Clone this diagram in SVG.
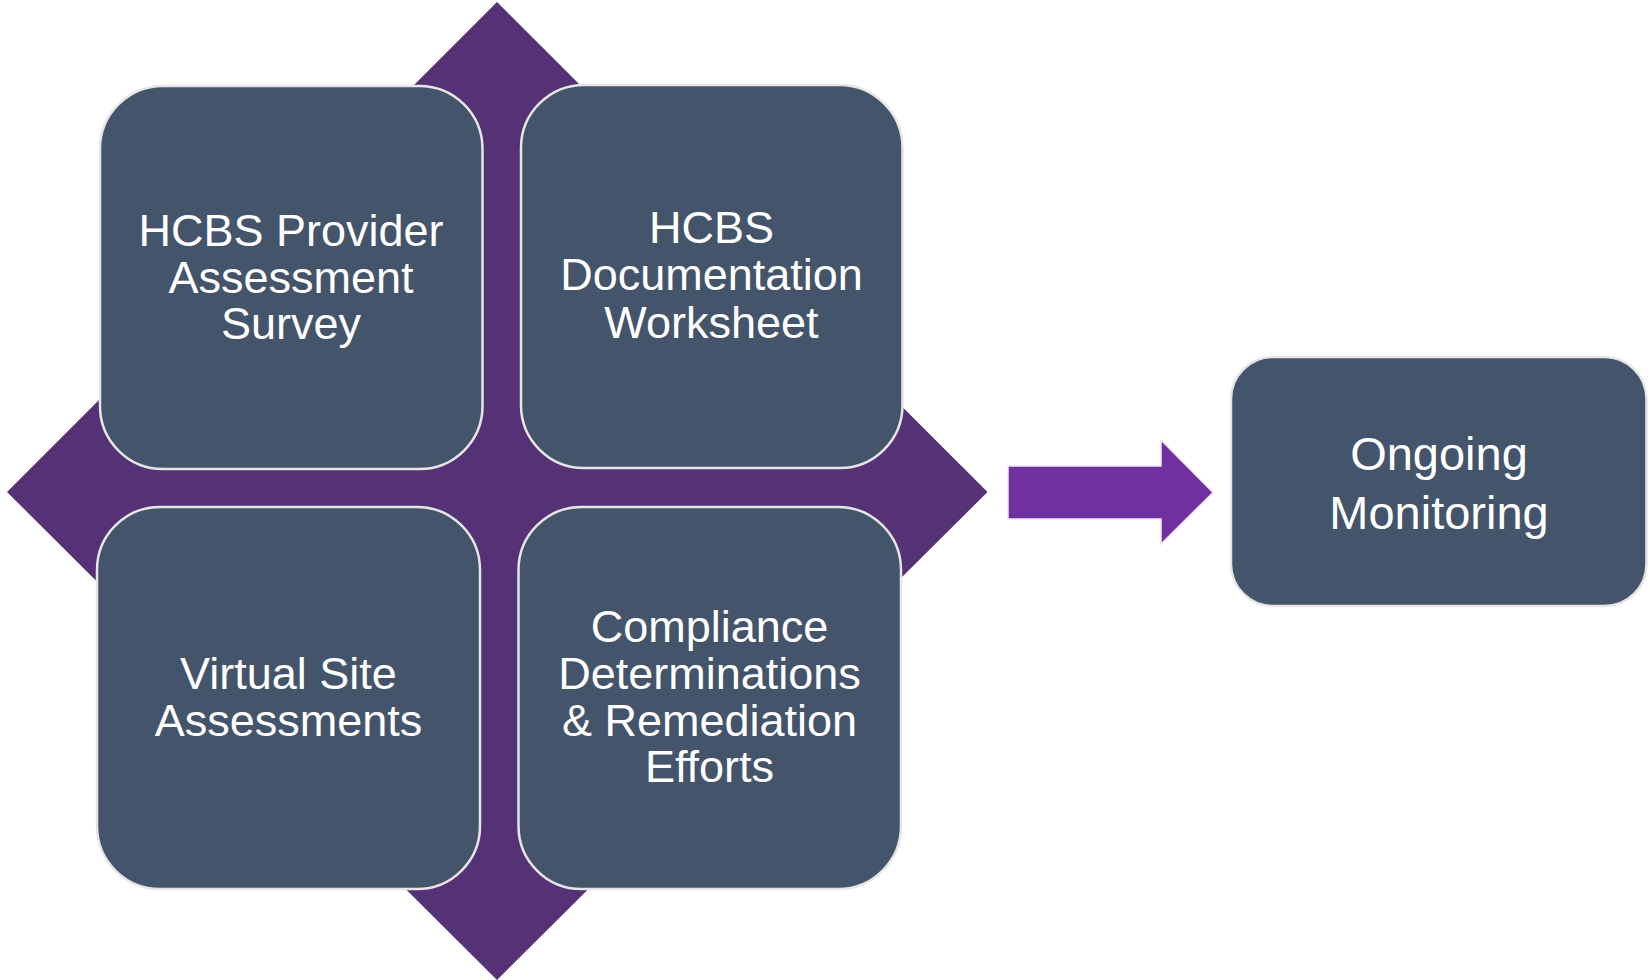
<svg xmlns="http://www.w3.org/2000/svg" width="1650" height="980" viewBox="0 0 1650 980">
  <style>
    .box { fill: #44546A; stroke: #E6E6E6; stroke-width: 2.5; }
    .lbl { font-family: "Liberation Sans", Arial, sans-serif; font-size: 45px; fill: #FFFFFF; text-anchor: middle; }
    .lbl2 { font-family: "Liberation Sans", Arial, sans-serif; font-size: 47px; fill: #FFFFFF; text-anchor: middle; }
  </style>
  <rect width="1650" height="980" fill="#FFFFFF"/>
  <g id="background-diamond">
    <polygon points="497,2 987.5,492 497,980 7,492" fill="#553176"/>
  </g>
  <g id="node-provider-survey">
    <rect class="box" x="100" y="86" width="382.5" height="383" rx="63" ry="63"/>
    <text class="lbl" x="291" y="245.5">HCBS Provider</text>
    <text class="lbl" x="291" y="292.5">Assessment</text>
    <text class="lbl" x="291" y="339">Survey</text>
  </g>
  <g id="node-documentation-worksheet">
    <rect class="box" x="521" y="85" width="381.5" height="383" rx="63" ry="63"/>
    <text class="lbl" x="711.5" y="243">HCBS</text>
    <text class="lbl" x="711.5" y="290">Documentation</text>
    <text class="lbl" x="711.5" y="337.5">Worksheet</text>
  </g>
  <g id="node-virtual-site">
    <rect class="box" x="97" y="507" width="383" height="382" rx="63" ry="63"/>
    <text class="lbl" x="288.5" y="689">Virtual Site</text>
    <text class="lbl" x="288.5" y="736">Assessments</text>
  </g>
  <g id="node-compliance">
    <rect class="box" x="518.5" y="507" width="382.5" height="382" rx="63" ry="63"/>
    <text class="lbl" x="709.5" y="641.5">Compliance</text>
    <text class="lbl" x="709.5" y="688.5">Determinations</text>
    <text class="lbl" x="709.5" y="735.5">&amp; Remediation</text>
    <text class="lbl" x="709.5" y="782">Efforts</text>
  </g>
  <g id="connectors">
    <polygon points="1008,466 1161,466 1161,440 1213,492.5 1161,544 1161,519 1008,519" fill="#7030A0" stroke="#EFE6F7" stroke-width="1.5"/>
  </g>
  <g id="node-ongoing-monitoring">
    <rect class="box" x="1231" y="357" width="415.5" height="249" rx="42" ry="42"/>
    <text class="lbl2" x="1439" y="470">Ongoing</text>
    <text class="lbl2" x="1439" y="529">Monitoring</text>
  </g>
</svg>
